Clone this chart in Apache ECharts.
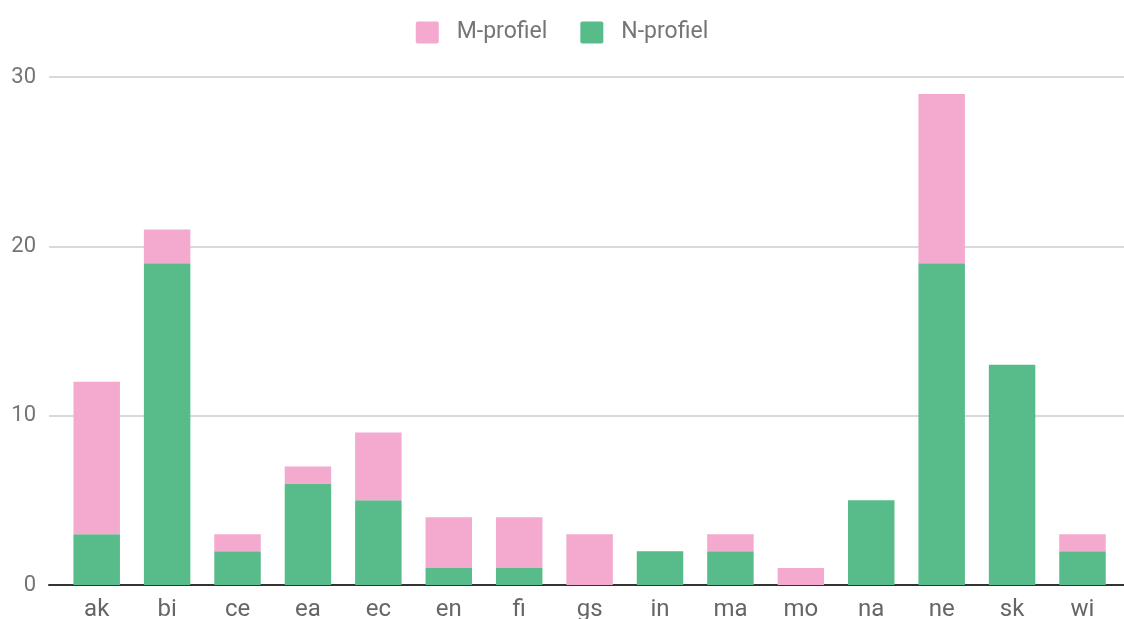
<!DOCTYPE html>
<html>
<head>
<meta charset="utf-8">
<script src="https://cdn.jsdelivr.net/npm/echarts@6/dist/echarts.min.js"></script>
<style>
html,body{margin:0;padding:0;background:#fff;}
#chart{width:1124px;height:619px;}
</style>
</head>
<body>
<div id="chart"></div>
<script>
const categories = ['ak','bi','ce','ea','ec','en','fi','gs','in','ma','mo','na','ne','sk','wi'];
const nProfiel = [3,19,2,6,5,1,1,0,2,2,0,5,19,13,2];
const mProfiel = [9,2,1,1,4,3,3,3,0,1,1,0,10,0,1];
const seriesNames = ['M-profiel','N-profiel'];
const yTicks = {min:0, max:30, interval:10};

const chart = echarts.init(document.getElementById('chart'), null, {renderer:'canvas'});
const font = 'Roboto, "Noto Sans", sans-serif';
chart.setOption({
  animation:false,
  backgroundColor:'#fff',
  legend:{
    data:seriesNames,
    left:'center', top:16,
    itemWidth:23, itemHeight:22, itemGap:33,
    icon:'path://M2,0 H21 Q23,0 23,2 V20 Q23,22 21,22 H2 Q0,22 0,20 V2 Q0,0 2,0 Z',
    textStyle:{fontFamily:font, fontSize:23, color:'#757575', padding:[0,0,0,13]}
  },
  grid:[
    {left:49, right:0, top:77, bottom:34, containLabel:false, outerBoundsMode:'none'},
    {left:61.5, right:6.3, top:77, bottom:34, containLabel:false, outerBoundsMode:'none'}
  ],
  xAxis:[
    {gridIndex:0, type:'value', min:0, max:1,
     axisLine:{show:true, onZero:false, lineStyle:{color:'#333', width:2}},
     axisTick:{show:false}, axisLabel:{show:false}, splitLine:{show:false}},
    {gridIndex:1, type:'category', data:categories,
     axisLine:{show:false}, axisTick:{show:false},
     axisLabel:{fontFamily:font, fontSize:24, color:'#666', margin:13}}
  ],
  yAxis:[
    {gridIndex:0, type:'value', min:yTicks.min, max:yTicks.max, interval:yTicks.interval,
     axisLine:{show:false}, axisTick:{show:false},
     axisLabel:{fontFamily:font, fontSize:22, color:'#757575', margin:13},
     splitLine:{lineStyle:{color:'#cccccc', width:1.5}}},
    {gridIndex:1, type:'value', min:yTicks.min, max:yTicks.max, interval:yTicks.interval, show:false}
  ],
  series:[
    {name:'N-profiel', type:'bar', stack:'total', xAxisIndex:1, yAxisIndex:1,
     data:nProfiel, barWidth:'66%', itemStyle:{color:'#57bb8a'}, z:2},
    {name:'M-profiel', type:'bar', stack:'total', xAxisIndex:1, yAxisIndex:1,
     data:mProfiel, barWidth:'66%', itemStyle:{color:'#f4a9cf'}, z:2}
  ]
});
</script>
</body>
</html>
